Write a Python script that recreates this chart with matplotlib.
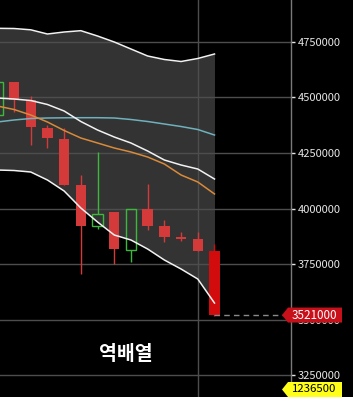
import matplotlib
matplotlib.use("Agg")
import matplotlib.pyplot as plt
import matplotlib.transforms as mtransforms
from matplotlib.patches import Rectangle, Polygon
import numpy as np

plt.rcParams['font.family'] = ['Noto Sans CJK KR', 'DejaVu Sans']

# 일봉 데이터 (시가, 고가, 저가, 종가)
opens  = [4420000, 4568800, 4487900, 4362000, 4312500, 4105700, 3921400,
          3984300, 3813500, 3997800, 3921400, 3870000, 3863000, 3810000]
highs  = [4600000, 4568800, 4505900, 4375500, 4362000, 4150700, 4254100,
          3984300, 4000000, 4110200, 3948400, 3894500, 3894500, 3840800]
lows   = [4400000, 4433900, 4285600, 4272100, 4105700, 3705600, 3907900,
          3750500, 3759500, 3903400, 3849500, 3854000, 3809000, 3515000]
closes = [4568800, 4487900, 4366500, 4317000, 4105700, 3921400, 3975300,
          3818000, 3997800, 3921400, 3872000, 3865000, 3809000, 3521000]

# 볼린저 밴드 / 이동평균
bb_upper = [4810200, 4809300, 4803500, 4784600, 4793600, 4799500, 4775600,
            4748700, 4717200, 4685700, 4670000, 4661000, 4674500, 4694700]
bb_mid   = [4496900, 4492400, 4485600, 4467700, 4438400, 4391200, 4353000,
            4321500, 4294500, 4258500, 4218100, 4195600, 4177600, 4132700]
bb_lower = [4173200, 4170900, 4164200, 4128200, 4078700, 4002300, 3939300,
            3880900, 3858400, 3817900, 3768500, 3728000, 3683000, 3575100]
ma_short = [4460900, 4445200, 4420400, 4389000, 4350800, 4317000, 4294600,
            4272100, 4254100, 4231600, 4200100, 4150700, 4119300, 4065400]
ma_long  = [4389000, 4398000, 4404700, 4407000, 4407900, 4408300, 4408300,
            4407000, 4400200, 4391200, 4380000, 4368700, 4355200, 4330500]

yticks = [3250000, 3500000, 3750000, 4000000, 4250000, 4500000, 4750000]
volume_label = "1236500"
title_text = "역배열"

W, H = 353, 397
fig = plt.figure(figsize=(W / 100, H / 100), dpi=100)
fig.patch.set_facecolor('black')
ax = fig.add_axes([0, 0, 291 / W, 1])
ax.set_facecolor('black')

x = np.arange(len(closes))

ax.set_xlim(0.16, 17.58)
ax.set_ylim(3152600, 4937500)

# 밴드 영역
ax.fill_between(x, bb_lower, bb_upper, color='#333333', zorder=1, lw=0)

# 그리드
for v in yticks:
    ax.axhline(v, color='#4d4d4d', lw=1, zorder=2)
ax.axvline(x[12], color='#4d4d4d', lw=1, zorder=2)

# 캔들
w = 0.62
for i in range(len(closes)):
    o, h, l, c = opens[i], highs[i], lows[i], closes[i]
    if c >= o:
        col = '#3cb83c'
        ax.vlines(i, h, max(o, c), color=col, lw=1, zorder=3)
        ax.vlines(i, l, min(o, c), color=col, lw=1, zorder=3)
        ax.add_patch(Rectangle((i - w / 2, o), w, c - o, facecolor='none',
                               edgecolor=col, lw=1, zorder=3))
    else:
        col = '#d43a3a' if i < len(closes) - 1 else '#d20c0c'
        ax.vlines(i, l, h, color=col, lw=1, zorder=3)
        ax.add_patch(Rectangle((i - w / 2, c), w, o - c, facecolor=col,
                               edgecolor='none', zorder=3))

# 라인
ax.plot(x, bb_upper, color='#f2f2f2', lw=1.1, zorder=4)
ax.plot(x, bb_lower, color='#f2f2f2', lw=1.1, zorder=4)
ax.plot(x, ma_long, color='#6fb1bd', lw=1.1, zorder=4)
ax.plot(x, ma_short, color='#d98a3a', lw=1.1, zorder=4)
ax.plot(x, bb_mid, color='#f2f2f2', lw=1.1, zorder=4)

# 현재가 점선
ax.hlines(closes[-1], x[-1], 17.58, colors='#8a8a8a', lw=1,
          linestyles=(0, (4, 3)), zorder=4)

# 축
for s in ['top', 'left', 'bottom']:
    ax.spines[s].set_visible(False)
ax.spines['right'].set_color('#7a7a7a')
ax.spines['right'].set_linewidth(1)
ax.set_xticks([])
ax.yaxis.tick_right()
ax.set_yticks(yticks)
ax.set_yticklabels([str(v) for v in yticks])
ax.tick_params(axis='y', colors='#e6e6e6', labelsize=8, length=3, width=1,
               pad=2, direction='out')
for t in ax.get_yticklines():
    t.set_color('#7a7a7a')

# 현재가 라벨
trans = mtransforms.blended_transform_factory(ax.transAxes, ax.transData)
px = 1 / 291
hy = 7.5 * (4937500 - 3152600) / H
x0, x1, tip = 288 * px, 342 * px, 282 * px
yc = closes[-1]
poly = Polygon([(tip, yc), (x0, yc + hy), (x1, yc + hy), (x1, yc - hy), (x0, yc - hy)],
               closed=True, transform=trans, facecolor='#c8101a', edgecolor='none',
               clip_on=False, zorder=6)
ax.add_patch(poly)
ax.text(314 * px, yc, str(closes[-1]), transform=trans, color='white',
        fontsize=8.4, ha='center', va='center', clip_on=False, zorder=7)

# 거래량 라벨
ta = ax.transAxes
yb = 1 - 389.5 / H
hh = 7.5 / H
poly2 = Polygon([(tip, yb), (x0, yb + hh), (x1, yb + hh), (x1, yb - hh), (x0, yb - hh)],
                closed=True, transform=ta, facecolor='#ffff1a', edgecolor='none',
                clip_on=False, zorder=6)
ax.add_patch(poly2)
ax.text(314 * px, yb, volume_label, transform=ta, color='black',
        fontsize=8.2, ha='center', va='center', clip_on=False, zorder=7)

ax.text(126 / 291, 1 - 355 / H, title_text, transform=ta, color='white',
        fontsize=14, fontweight='bold', ha='center', va='center', zorder=7)

fig.savefig('out.png', dpi=100, facecolor='black')
